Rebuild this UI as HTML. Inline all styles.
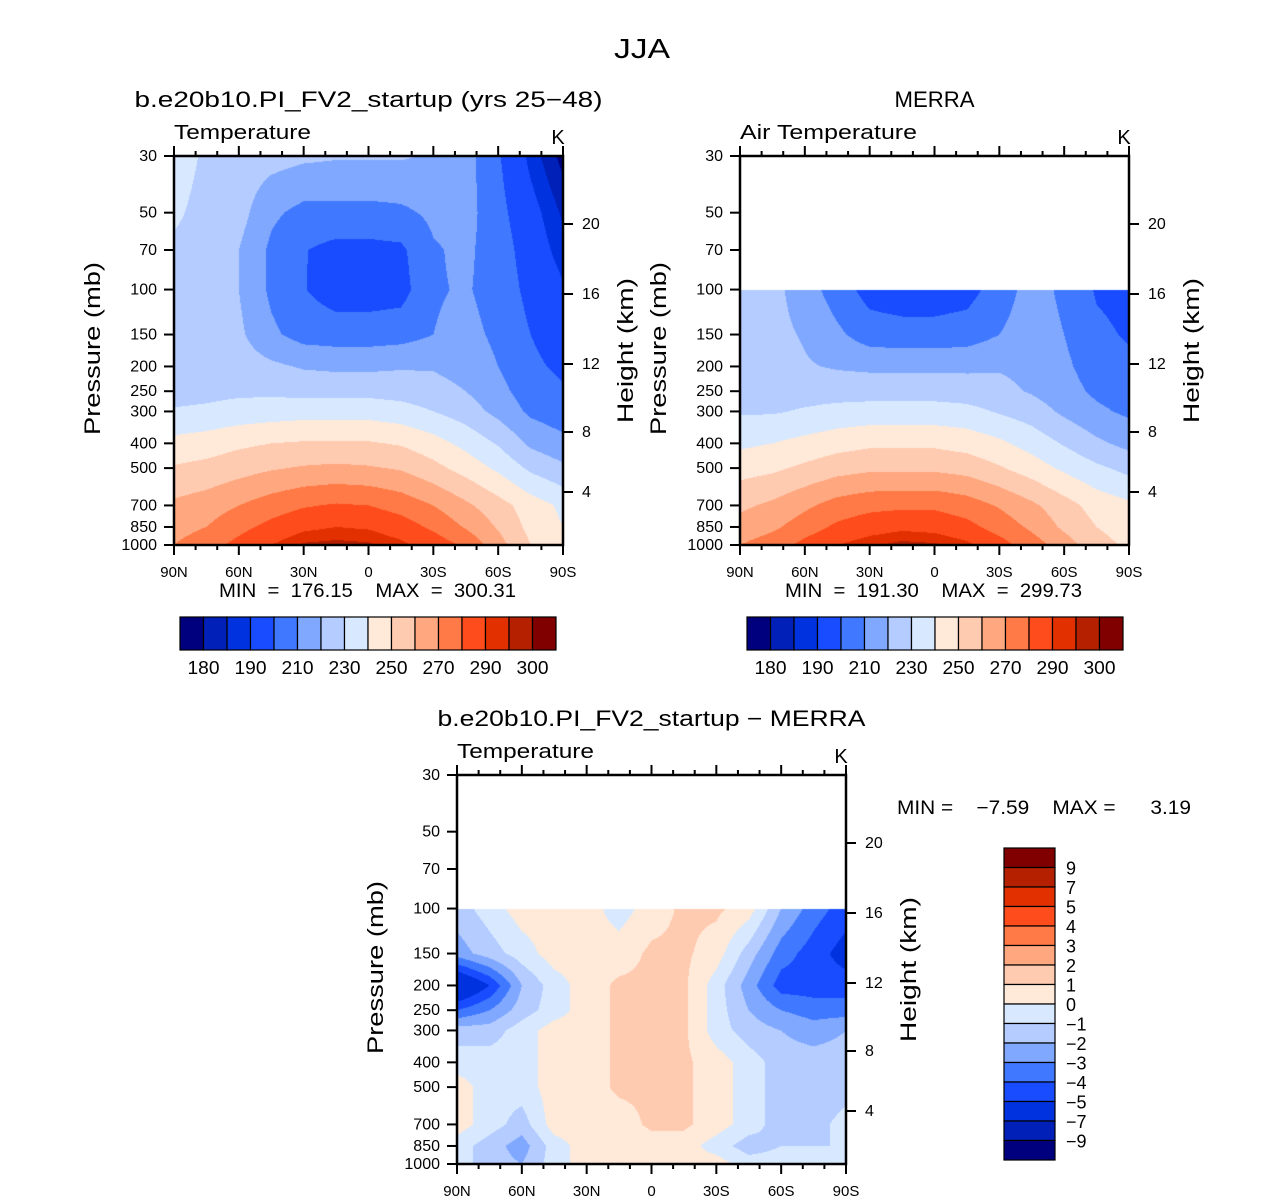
<!DOCTYPE html>
<html><head><meta charset="utf-8">
<style>
body{margin:0;background:#fff;width:1285px;height:1202px;position:relative;overflow:hidden;font-family:"Liberation Sans",sans-serif}
canvas{position:absolute}
svg{position:absolute;left:0;top:0}
</style></head>
<body>
<canvas id="c1" width="389" height="389" style="left:174px;top:156px"></canvas>
<canvas id="c2" width="389" height="389" style="left:740px;top:156px"></canvas>
<canvas id="c3" width="389" height="389" style="left:457px;top:775px"></canvas>
<svg id="s" width="1285" height="1202"></svg>
<script>
const lats=[90,75,60,45,30,15,0,-15,-30,-45,-60,-75,-90];
const levels=[30,50,70,100,150,200,250,300,400,500,700,850,1000];
const tempBounds=[180,185,190,200,210,220,230,240,250,260,270,280,290,295,300];
const diffBounds=[-9,-7,-5,-4,-3,-2,-1,0,1,2,3,4,5,7,9];
const tempLabels=["180","190","210","230","250","270","290","300"];
const diffLabels=["-9","-7","-5","-4","-3","-2","-1","0","1","2","3","4","5","7","9"];
const palette=["#00007f","#0020b8","#0032e0","#1a4cff","#4079ff","#80a8ff","#b4ccff","#d8e9ff","#ffe9d8","#ffcbb0","#ffa880","#ff7a46","#ff4c1c","#e23000","#b52000","#800000"];
const pTicks=[30,50,70,100,150,200,250,300,400,500,700,850,1000];
const hTicks=[[20,224],[16,294],[12,364],[8,432],[4,492]];
const latLabels=["90N","60N","30N","0","30S","60S","90S"];
const modelT=[
[236,228,226,224,222,221,221,221,219,214,201,188,178],
[232,226,224,212,207,207,207,208,212,214,203,193,184],
[228,225,220,208,200.5,197,197,198,209,212,205,195,187],
[226,224,220,208,200.5,195,195,196,209,211,206,197,191],
[225,224,222,212,206,205,205,206,210,213,208,200,195],
[224,224,225,222,219,218,218,219,219,216,210,202,198],
[226,227,228,228,227,227,227,226,224,220,213,205,201],
[231,232,234,235,236,236,236,234,230,225,217,208,204],
[243,245,248,250,251,251,251,249,244,237,229,218,213],
[251,253,256,259,261,262,261,259,253,246,238,228,222],
[262,265,270,275,279,281,280,276,270,262,254,245,238],
[266,270,277,283,288,290,289,285,278,269,259,247,240],
[270,276,283,290,296,297,296,292,286,278,264,250,243]];
const merraT=[
[null,null,null,null,null,null,null,null,null,null,null,null,null],
[null,null,null,null,null,null,null,null,null,null,null,null,null],
[null,null,null,null,null,null,null,null,null,null,null,null,null],
[224,223,215,205,196,194,194,196,205,214,208,199,197],
[228,223,219,212,205,204,204,205,210,215,210,202,199],
[229,225,221,219,218,218,218,218,219,217,212,205,202],
[228,227,226,226,226,226,226,225,223,219,214,208,205],
[229,229,231,233,234,234,234,233,229,225,218,212,208],
[238,240,243,246,248,248,248,246,242,236,229,222,217],
[246,248,252,256,258,258,258,256,251,245,238,232,227],
[258,262,268,274,277,278,278,275,269,262,254,246,242],
[264,268,275,282,286,288,287,283,276,268,258,250,245],
[270,275,283,290,294,297,296,292,284,275,265,254,248]];
const diffT=[
[null,null,null,null,null,null,null,null,null,null,null,null,null],
[null,null,null,null,null,null,null,null,null,null,null,null,null],
[null,null,null,null,null,null,null,null,null,null,null,null,null],
[-1.5,-0.5,0.5,0.5,0.5,-0.5,0.5,1.2,1.2,0.5,-2,-3.5,-4.5],
[-2.5,-1.5,-0.5,0.5,0.5,0.5,1.2,1.2,0.5,-1.5,-3.5,-4.5,-5.5],
[-7,-5,-2,-0.5,0.5,1.2,1.2,1.2,-0.5,-2.5,-4.5,-4.5,-4.5],
[-4,-3,-1.5,-0.5,0.5,1.2,1.2,1.2,-0.5,-2,-3,-3.5,-3.5],
[-1.5,-1.5,-0.5,0.5,0.5,1.2,1.2,1.2,-0.5,-1.5,-2,-2.5,-2],
[-0.5,-0.5,-0.5,0.5,0.5,1.2,1.2,1.2,0.5,-0.5,-1.5,-1.5,-1.5],
[0.5,-0.5,-0.5,0.5,0.5,1.2,1.2,1.2,0.5,-0.5,-1.5,-2,-1.5],
[0.5,-0.5,-1.5,0.5,0.5,0.5,1.2,1.2,0.5,-0.5,-1.5,-1.5,-0.5],
[-0.5,-1.5,-2.5,-0.5,0.5,0.5,0.5,0.5,-0.5,-1.5,-1,-1,-1],
[-0.5,-1.5,-2,-0.5,0.5,0.5,0.5,0.5,0.5,-0.5,-0.5,-0.5,-1]];

const W=389,H=389;
function xOfLat(lat){return (90-lat)/180*W;}
function yOfP(p){return Math.log(p/30)/Math.log(1000/30)*H;}
function hex(c){return [parseInt(c.slice(1,3),16),parseInt(c.slice(3,5),16),parseInt(c.slice(5,7),16)];}
const rgb=palette.map(hex);
function colorIdx(v,b){let i=0;while(i<b.length&&v>=b[i])i++;return i;}
function drawField(id,grid,bounds){
  const cv=document.getElementById(id),ctx=cv.getContext('2d');
  const img=ctx.createImageData(W,H);
  const gx=lats.map(xOfLat),gy=levels.map(yOfP);
  for(let py=0;py<H;py++){
    let j=0;while(j<gy.length-2&&py+0.5>gy[j+1])j++;
    const ty=Math.min(1,Math.max(0,(py+0.5-gy[j])/(gy[j+1]-gy[j])));
    for(let px=0;px<W;px++){
      let i=0;while(i<gx.length-2&&px+0.5>gx[i+1])i++;
      const tx=Math.min(1,Math.max(0,(px+0.5-gx[i])/(gx[i+1]-gx[i])));
      const a=grid[j][i],b=grid[j][i+1],c=grid[j+1][i],d=grid[j+1][i+1];
      const k=(py*W+px)*4;
      if(a==null||b==null||c==null||d==null){img.data[k+3]=0;continue;}
      const v=(a*(1-tx)+b*tx)*(1-ty)+(c*(1-tx)+d*tx)*ty;
      const col=rgb[colorIdx(v,bounds)];
      img.data[k]=col[0];img.data[k+1]=col[1];img.data[k+2]=col[2];img.data[k+3]=255;
    }
  }
  ctx.putImageData(img,0,0);
}
drawField('c1',modelT,tempBounds);
drawField('c2',merraT,tempBounds);
drawField('c3',diffT,diffBounds);

const S=document.getElementById('s'),NS='http://www.w3.org/2000/svg';
function el(tag,attrs,parent){const e=document.createElementNS(NS,tag);for(const k in attrs)e.setAttribute(k,attrs[k]);(parent||S).appendChild(e);return e;}
function txt(x,y,s,size,anchor,name,len){const t=el('text',{x:x,y:y,'font-size':size,'text-anchor':anchor||'middle',fill:'#000'});t.textContent=s;
t.setAttribute('style','white-space:pre');
if(len){t.setAttribute('textLength',len);t.setAttribute('lengthAdjust','spacingAndGlyphs');}


return t;}

txt(642,58,'JJA',28,'middle','figure-title',56);

function panel(ox,oy,title,titleLen,sub,subLen,mm,pre){
  const g=el('g',{});
  
  
  txt(ox+W/2,oy-49,title,22,'middle',pre+'-title',titleLen);
  txt(ox,oy-17,sub,20,'start',pre+'-variable-label',subLen);
  txt(ox+W-5,oy-12,'K',20,'middle',pre+'-units');
  el('rect',{x:ox,y:oy,width:W,height:H,fill:'none',stroke:'#000','stroke-width':2.5},g);
  for(let lat=90;lat>=-90;lat-=10){
    const x=ox+xOfLat(lat),major=(lat%30===0);
    const L=major?10:5;
    el('line',{x1:x,y1:oy,x2:x,y2:oy-L,stroke:'#000','stroke-width':2},g);
    el('line',{x1:x,y1:oy+H,x2:x,y2:oy+H+L,stroke:'#000','stroke-width':2},g);
  }
  latLabels.forEach((s,k)=>txt(ox+k*W/6,oy+H+32,s,15,'middle',pre+'-lat-tick-label'));
  pTicks.forEach(p=>{const y=oy+yOfP(p);
    el('line',{x1:ox,y1:y,x2:ox-10,y2:y,stroke:'#000','stroke-width':2},g);
    txt(ox-17,y+5,String(p),16,'end',pre+'-pressure-tick-label');});
  hTicks.forEach(h=>{const y=oy+h[1]-156;
    el('line',{x1:ox+W,y1:y,x2:ox+W+10,y2:y,stroke:'#000','stroke-width':2},g);
    txt(ox+W+19,y+5,String(h[0]),16,'start',pre+'-height-tick-label');});
  const yl=txt(0,0,'Pressure (mb)',22,'middle',pre+'-y-axis-title',173);
  yl.setAttribute('transform','translate('+(ox-74)+','+(oy+H/2-2)+') rotate(-90)');
  const hl=txt(0,0,'Height (km)',22,'middle',pre+'-right-axis-title',145);
  hl.setAttribute('transform','translate('+(ox+W+70)+','+(oy+H/2)+') rotate(-90)');
  if(mm) txt(ox+W/2-1,oy+H+52,mm,19,'middle',pre+'-min-max',297);
}
panel(174,156,'b.e20b10.PI_FV2_startup (yrs 25\u221248)',468,'Temperature',137,'MIN  =  176.15    MAX  =  300.31','model');
panel(740,156,'MERRA',80,'Air Temperature',177,'MIN  =  191.30    MAX  =  299.73','merra');
panel(457,775,'b.e20b10.PI_FV2_startup \u2212 MERRA',428,'Temperature',137,null,'diff');
txt(1044,814,'MIN =    \u22127.59    MAX =      3.19',19,'middle','diff-min-max',294);

function hbar(x0,y0,pre){
  const w=23.5;
  palette.forEach((c,k)=>{const r=el('rect',{x:x0+k*w,y:y0,width:w,height:33,fill:c,stroke:'#000','stroke-width':1.2});
  
  });
  const lb=[1,3,5,7,9,11,13,15];
  tempLabels.forEach((s,k)=>txt(x0+lb[k]*w,y0+57,s,18,'middle',pre+'-colorbar-label',32));
}
hbar(180,617,'model');hbar(747,617,'merra');
const vh=19.5,vx=1004,vy=848;
palette.slice().reverse().forEach((c,k)=>{const r=el('rect',{x:vx,y:vy+k*vh,width:51,height:vh,fill:c,stroke:'#000','stroke-width':1.2});

});
diffLabels.forEach((s,k)=>{const y=vy+(15-k)*vh;txt(vx+62,y+7,s.replace('-','\u2212'),18,'start','diff-colorbar-label');});
</script>
</body></html>
